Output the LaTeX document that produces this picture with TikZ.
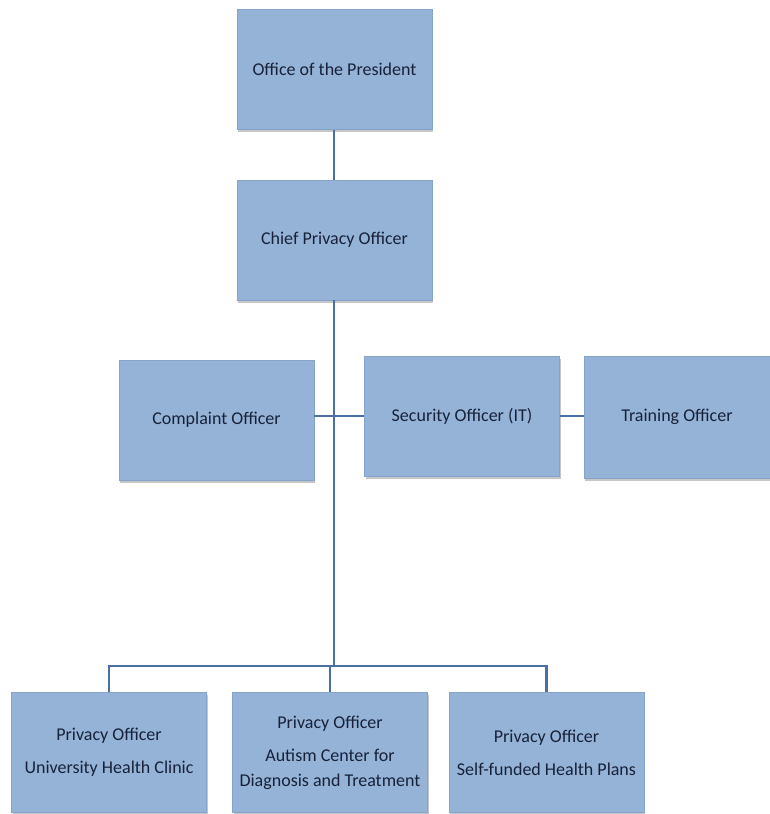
\documentclass[tikz,border=0pt]{standalone}
\usepackage{fontspec}
\setmainfont{Carlito}
\usepackage{tikz}
\usetikzlibrary{shadows}
\definecolor{boxblue}{HTML}{95B3D7}
\definecolor{boxedge}{HTML}{86A3CB}
\definecolor{linkblue}{HTML}{4A6FA5}
\definecolor{inkblue}{HTML}{17223A}

\begin{document}
\begin{tikzpicture}[x=1pt,y=-1pt,
  every node/.style={font=\fontsize{18}{25}\selectfont, text=inkblue},
  office/.style={rectangle, fill=boxblue, draw=boxedge, line width=0.6pt,
    minimum width=195pt, minimum height=120pt, align=center,
    drop shadow={shadow xshift=1pt, shadow yshift=-2.5pt, opacity=0.45}},
  link/.style={draw=linkblue, line width=2.2pt}]
  \useasboundingbox (0,0) rectangle (770,814);

  % top of the chart
  \node[office] (president) at (334.5,69.5) {Office of the President};
  \node[office] (chief) at (334.5,240) {Chief Privacy Officer};

  % middle row
  \node[office] (complaint) at (216.5,420) {Complaint Officer};
  \node[office] (security) at (462,416) {Security Officer (IT)};
  \node[office, minimum width=186pt, minimum height=122pt] (training) at (677,417) {Training Officer};

  % bottom row
  \node[office] (clinic) at (109,752.5) {Privacy Officer\\[8pt]University Health Clinic};
  \node[office] (autism) at (330,752.5) {Privacy Officer\\[8pt]Autism Center for\\Diagnosis and Treatment};
  \node[office] (plans) at (546.5,752.5) {Privacy Officer\\[8pt]Self-funded Health Plans};

  \coordinate (bus) at (334,666);

  \draw[link] (president.south -| bus) -- (chief.north -| bus);
  \draw[link] (chief.south -| bus) -- (bus);
  \draw[link] (security.west -| complaint.east) -- (security.west);
  \draw[link] (security.east) -- (security.east -| training.west);
  \draw[link] (clinic.north) |- (bus) -| (plans.north);
  \draw[link] (autism.north) -- (autism.north |- bus);
\end{tikzpicture}
\end{document}
